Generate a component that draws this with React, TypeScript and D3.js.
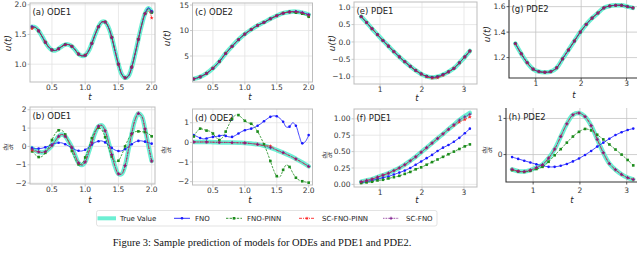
import React from 'react';
import * as d3 from 'd3';

// sample grids (t)
const tOde = [0.2, 0.25, 0.3, 0.35, 0.4, 0.45, 0.5, 0.55, 0.6, 0.65, 0.7, 0.75, 0.8, 0.85, 0.9, 0.95, 1.0, 1.05, 1.1, 1.15, 1.2, 1.25, 1.3, 1.35, 1.4, 1.45, 1.5, 1.55, 1.6, 1.65, 1.7, 1.75, 1.8, 1.85, 1.9, 1.95, 2.0];
const tOdeCoarse = [0.2, 0.3, 0.4, 0.5, 0.6, 0.7, 0.8, 0.9, 1.0, 1.1, 1.2, 1.3, 1.4, 1.5, 1.6, 1.7, 1.8, 1.9, 2.0];
const tPde = [0.55, 0.68, 0.81, 0.94, 1.07, 1.2, 1.33, 1.46, 1.59, 1.72, 1.85, 1.98, 2.11, 2.24, 2.37, 2.5, 2.63, 2.76, 2.89, 3.02, 3.14];

const seriesNames = ['True Value', 'FNO', 'FNO-PINN', 'SC-FNO-PINN', 'SC-FNO'];

// (a) ODE1 u(t)
const aTrue = [1.63, 1.62, 1.56, 1.47, 1.37, 1.29, 1.24, 1.23, 1.26, 1.3, 1.33, 1.33, 1.3, 1.24, 1.17, 1.14, 1.15, 1.22, 1.35, 1.5, 1.63, 1.71, 1.71, 1.62, 1.45, 1.22, 1.0, 0.83, 0.77, 0.8, 0.95, 1.17, 1.42, 1.66, 1.85, 1.94, 1.88];
const aFno = [...aTrue.slice(0, 35), 1.95, 1.89];
const aPinn = [1.61, ...aTrue.slice(1, 35), 1.93, 1.87];
const aScPinn = [1.6, ...aTrue.slice(1, 35), 1.9, 1.78];
const aSc = [...aTrue];

// (b) ODE1 du/dt
const bTrue = [-0.1, -0.22, -0.3, -0.33, -0.28, -0.15, 0.05, 0.3, 0.55, 0.65, 0.55, 0.28, -0.05, -0.5, -0.9, -1.02, -0.85, -0.35, 0.2, 0.75, 1.1, 1.15, 0.85, 0.25, -0.45, -1.1, -1.5, -1.5, -1.05, -0.2, 0.7, 1.45, 1.8, 1.65, 0.95, 0.05, -0.8];
const bFno = [-0.08, -0.12, -0.12, -0.1, -0.05, 0.02, 0.1, 0.17, 0.2, 0.19, 0.12, 0.02, -0.08, -0.18, -0.24, -0.25, -0.18, -0.05, 0.1, 0.22, 0.28, 0.3, 0.22, 0.08, -0.08, -0.2, -0.25, -0.24, -0.15, -0.02, 0.12, 0.24, 0.3, 0.3, 0.26, 0.2, 0.15];
const bPinn = [-0.27, -0.45, -0.58, -0.55, -0.35, -0.05, 0.35, 0.7, 0.88, 0.88, 0.65, 0.25, -0.25, -0.7, -0.98, -0.95, -0.6, -0.1, 0.45, 0.85, 1.02, 0.9, 0.5, -0.05, -0.55, -0.83, -0.78, -0.45, 0.0, 0.4, 0.68, 0.8, 0.82, 0.8, 0.78, 0.7, 0.55];
const bScPinn = [-0.2, -0.28, ...bTrue.slice(2)];
const bSc = [-0.14, ...bTrue.slice(1)];

// (c) ODE2 u(t)
const cTrue = [0.5, 0.9, 1.6, 2.6, 3.9, 5.5, 6.9, 8.2, 9.3, 10.2, 11.0, 11.6, 12.3, 12.9, 13.4, 13.65, 13.7, 13.5, 13.1];
const cFno = [...cTrue];
const cPinn = [...cTrue.slice(0, 16), 13.5, 13.3, 12.7];
const cScPinn = [...cTrue.slice(0, 18), 13.0];
const cSc = [...cTrue];

// (d) ODE2 du/dt
const dTrue = [0.02, 0.02, 0.02, 0.01, 0.0, 0.0, -0.01, -0.02, -0.03, -0.06, -0.1, -0.17, -0.27, -0.39, -0.52, -0.67, -0.84, -1.02, -1.22];
const dFno = [0.37, 0.3, 0.22, 0.18, 0.2, 0.25, 0.28, 0.3, 0.33, 0.36, 0.33, 0.28, 0.28, 0.35, 0.45, 0.55, 0.62, 0.66, 0.7, 0.76, 0.85, 0.95, 1.08, 1.2, 1.3, 1.35, 1.33, 1.22, 1.05, 0.78, 0.8, 1.0, 0.85, 0.35, -0.05, 0.05, 0.37];
const dPinn = [0.3, 0.55, 0.7, 0.66, 0.6, 0.57, 0.45, 0.25, 0.12, 0.25, 0.55, 0.9, 1.2, 1.38, 1.39, 1.25, 1.1, 1.0, 0.95, 0.8, 0.55, 0.25, -0.1, -0.5, -0.95, -1.4, -1.72, -1.75, -1.4, -1.15, -1.25, -1.55, -1.8, -1.92, -1.98, -2.02, -2.05];
const dScPinn = [...dTrue.slice(0, 12), -0.19, -0.4, -0.53, -0.68, -0.85, -1.03, -1.23];
const dSc = [...dTrue];

// (e) PDE1 u(t)
const eTrue = [0.73, 0.56, 0.38, 0.21, 0.04, -0.12, -0.28, -0.43, -0.57, -0.7, -0.82, -0.92, -0.99, -1.02, -1.0, -0.94, -0.86, -0.76, -0.6, -0.43, -0.26];
const eFno = [...eTrue];
const ePinn = [...eTrue];
const eScPinn = [...eTrue.slice(0, 12), -1.0, -1.04, -1.03, -0.96, ...eTrue.slice(16)];
const eSc = [...eTrue];

// (f) PDE1 du/dt
const fTrue = [0.04, 0.06, 0.08, 0.11, 0.14, 0.17, 0.21, 0.25, 0.3, 0.36, 0.42, 0.49, 0.56, 0.63, 0.7, 0.77, 0.84, 0.91, 0.98, 1.04, 1.09];
const fFno = [0.03, 0.04, 0.06, 0.08, 0.1, 0.12, 0.15, 0.18, 0.21, 0.25, 0.3, 0.35, 0.4, 0.45, 0.51, 0.56, 0.6, 0.65, 0.71, 0.78, 0.85];
const fPinn = [0.02, 0.03, 0.04, 0.06, 0.07, 0.09, 0.11, 0.13, 0.16, 0.19, 0.23, 0.26, 0.3, 0.34, 0.38, 0.42, 0.46, 0.5, 0.54, 0.58, 0.61];
const fScPinn = [...fTrue.slice(0, 17), 0.9, 0.95, 0.99, 1.03];
const fSc = [...fTrue.slice(0, 19), 1.03, 1.07];

// (g) PDE2 u(t)
const gTrue = [1.31, 1.23, 1.16, 1.11, 1.09, 1.085, 1.09, 1.12, 1.19, 1.26, 1.33, 1.4, 1.46, 1.51, 1.55, 1.59, 1.605, 1.61, 1.61, 1.6, 1.59];
const gFno = [...gTrue];
const gPinn = [...gTrue];
const gScPinn = [...gTrue];
const gSc = [...gTrue];

// (h) PDE2 du/dt
const hTrue = [-0.41, -0.46, -0.47, -0.43, -0.36, -0.28, -0.1, 0.15, 0.5, 0.85, 1.1, 1.15, 1.05, 0.8, 0.42, 0.05, -0.25, -0.42, -0.55, -0.64, -0.69];
const hFno = [-0.07, -0.12, -0.17, -0.22, -0.27, -0.31, -0.34, -0.34, -0.31, -0.26, -0.19, -0.11, -0.01, 0.1, 0.22, 0.33, 0.44, 0.54, 0.62, 0.68, 0.72];
const hPinn = [-0.43, -0.47, -0.48, -0.45, -0.4, -0.34, -0.2, -0.02, 0.15, 0.33, 0.5, 0.63, 0.71, 0.67, 0.55, 0.42, 0.28, 0.14, 0.0, -0.15, -0.3];
const hScPinn = [...hTrue];
const hSc = [...hTrue];

type Style = { stroke: string; width: number; opacity: number; dash?: string; marker?: string };
const styles: Record<string, Style> = {
  'True Value': { stroke: '#52eccb', width: 4.5, opacity: 0.85 },
  'FNO': { stroke: '#1a1aff', width: 0.8, opacity: 1, marker: 'circle' },
  'FNO-PINN': { stroke: '#1c8c1c', width: 0.8, opacity: 1, dash: '2.4,1.2', marker: 'square' },
  'SC-FNO-PINN': { stroke: '#ff2222', width: 0.8, opacity: 1, dash: '3,1,1,1', marker: 'star' },
  'SC-FNO': { stroke: '#7d1a8c', width: 0.9, opacity: 1, dash: '0.8,0.8', marker: 'plus' },
};

type PanelCfg = {
  title: string;
  box: { x: number; y: number; w: number; h: number };
  xDomain: [number, number];
  yDomain: [number, number];
  xTicks: number[];
  yTicks: number[];
  xFmt: string;
  yFmt: string;
  ylabel: 'u' | 'du';
  ylabelPos: [number, number];
  xlabelPos: [number, number];
  frame: 'box' | 'spine';
  xTickDy: number;
  markEvery: number;
  t: number[][];
  v: number[][];
};

const panels: PanelCfg[] = [
  {
    title: '(a) ODE1', box: { x: 30, y: 3, w: 125, h: 79 }, xDomain: [0.17, 2.05], yDomain: [0.7, 2.03],
    xTicks: [0.5, 1, 1.5, 2], yTicks: [1, 1.5, 2], xFmt: '.1f', yFmt: '.1f', ylabel: 'u', ylabelPos: [8, 43], xlabelPos: [90, 99.5],
    frame: 'box', xTickDy: 8.3, markEvery: 2,
    t: [tOde, tOde, tOde, tOde, tOde], v: [aTrue, aFno, aPinn, aScPinn, aSc],
  },
  {
    title: '(b) ODE1', box: { x: 30, y: 107, w: 125, h: 77 }, xDomain: [0.17, 2.05], yDomain: [-2.05, 2.15],
    xTicks: [0.5, 1, 1.5, 2], yTicks: [-2, -1, 0, 1, 2], xFmt: '.1f', yFmt: 'd', ylabel: 'du', ylabelPos: [8, 147], xlabelPos: [90, 203],
    frame: 'box', xTickDy: 8.3, markEvery: 2,
    t: [tOde, tOde, tOde, tOde, tOde], v: [bTrue, bFno, bPinn, bScPinn, bSc],
  },
  {
    title: '(c) ODE2', box: { x: 192.5, y: 3, w: 120, h: 79 }, xDomain: [0.18, 2.06], yDomain: [-0.1, 15.4],
    xTicks: [0.5, 1, 1.5, 2], yTicks: [5, 10, 15], xFmt: '.1f', yFmt: 'd', ylabel: 'u', ylabelPos: [167, 38], xlabelPos: [250, 99.5],
    frame: 'box', xTickDy: 8.3, markEvery: 1,
    t: [tOdeCoarse, tOdeCoarse, tOdeCoarse, tOdeCoarse, tOdeCoarse], v: [cTrue, cFno, cPinn, cScPinn, cSc],
  },
  {
    title: '(d) ODE2', box: { x: 192.5, y: 109, w: 120, h: 76 }, xDomain: [0.18, 2.06], yDomain: [-2.17, 1.7],
    xTicks: [0.5, 1, 1.5, 2], yTicks: [-2, -1, 0, 1], xFmt: '.1f', yFmt: 'd', ylabel: 'du', ylabelPos: [166, 150], xlabelPos: [250, 203],
    frame: 'box', xTickDy: 8.3, markEvery: 2,
    t: [tOdeCoarse, tOde, tOde, tOdeCoarse, tOdeCoarse], v: [dTrue, dFno, dPinn, dScPinn, dSc],
  },
  {
    title: '(e) PDE1', box: { x: 354, y: 2, w: 123, h: 82 }, xDomain: [0.38, 3.31], yDomain: [-1.21, 1.15],
    xTicks: [1, 2, 3], yTicks: [-1, -0.5, 0, 0.5, 1], xFmt: 'd', yFmt: '.1f', ylabel: 'u', ylabelPos: [332, 43], xlabelPos: [417, 100.5],
    frame: 'box', xTickDy: 8.3, markEvery: 1,
    t: [tPde, tPde, tPde, tPde, tPde], v: [eTrue, eFno, ePinn, eScPinn, eSc],
  },
  {
    title: '(f) PDE1', box: { x: 354, y: 109, w: 123, h: 78 }, xDomain: [0.38, 3.31], yDomain: [-0.04, 1.15],
    xTicks: [1, 2, 3], yTicks: [0, 0.25, 0.5, 0.75, 1], xFmt: 'd', yFmt: '.2f', ylabel: 'du', ylabelPos: [327, 155], xlabelPos: [417, 203],
    frame: 'box', xTickDy: 8.3, markEvery: 1,
    t: [tPde, tPde, tPde, tPde, tPde], v: [fTrue, fFno, fPinn, fScPinn, fSc],
  },
  {
    title: '(g) PDE2', box: { x: 509, y: 0, w: 128, h: 78 }, xDomain: [0.41, 3.23], yDomain: [1.04, 1.652],
    xTicks: [1, 2, 3], yTicks: [1.2, 1.4, 1.6], xFmt: 'd', yFmt: '.1f', ylabel: 'u', ylabelPos: [487, 34], xlabelPos: [574, 97.5],
    frame: 'spine', xTickDy: 8.3, markEvery: 1,
    t: [tPde, tPde, tPde, tPde, tPde], v: [gTrue, gFno, gPinn, gScPinn, gSc],
  },
  {
    title: '(h) PDE2', box: { x: 506, y: 108, w: 131, h: 74 }, xDomain: [0.42, 3.22], yDomain: [-0.76, 1.29],
    xTicks: [1, 2, 3], yTicks: [0, 1], xFmt: 'd', yFmt: 'd', ylabel: 'du', ylabelPos: [487, 150], xlabelPos: [572, 203],
    frame: 'spine', xTickDy: 10.5, markEvery: 1,
    t: [tPde, tPde, tPde, tPde, tPde], v: [hTrue, hFno, hPinn, hScPinn, hSc],
  },
];

const SANS = 'DejaVu Sans, sans-serif';

function Marker({ kind, x, y, color }: { kind?: string; x: number; y: number; color: string }) {
  if (kind === 'circle') return <circle cx={x} cy={y} r={1.3} fill={color} />;
  if (kind === 'square') return <rect x={x - 1.3} y={y - 1.3} width={2.6} height={2.6} fill={color} />;
  if (kind === 'star') return <path d={d3.symbol(d3.symbolStar, 5)()!} transform={`translate(${x},${y})`} fill={color} />;
  if (kind === 'plus')
    return (
      <path d={`M${x - 1.6},${y}H${x + 1.6}M${x},${y - 1.6}V${y + 1.6}`} stroke={color} strokeWidth={0.9} />
    );
  return null;
}

function Panel({ cfg, idx }: { cfg: PanelCfg; idx: number }) {
  const { box } = cfg;
  const x = d3.scaleLinear().domain(cfg.xDomain).range([box.x, box.x + box.w]);
  const y = d3.scaleLinear().domain(cfg.yDomain).range([box.y + box.h, box.y]);
  const line = d3
    .line<[number, number]>()
    .x(d => x(d[0]))
    .y(d => y(d[1]))
    .curve(d3.curveCatmullRom.alpha(0.5));
  const xf = d3.format(cfg.xFmt);
  const yf = (v: number) => d3.format(cfg.yFmt)(v).replace('-', '\u2212');
  const clip = `clip-${idx}`;
  const isBox = cfg.frame === 'box';
  const gridColor = isBox ? '#e3e3e3' : '#c4c4c4';
  const frameColor = isBox ? '#bdbdbd' : '#333';
  const bottom = box.y + box.h;
  const right = box.x + box.w;

  return (
    <g>
      <defs>
        <clipPath id={clip}>
          <rect x={box.x} y={box.y} width={box.w} height={box.h} />
        </clipPath>
      </defs>
      {cfg.yTicks.map(v => (
        <line key={`gy${v}`} x1={box.x} x2={right} y1={y(v)} y2={y(v)} stroke={gridColor} strokeWidth={0.8} />
      ))}
      {cfg.xTicks.map(v => (
        <line key={`gx${v}`} x1={x(v)} x2={x(v)} y1={box.y} y2={bottom} stroke={gridColor} strokeWidth={0.8} />
      ))}
      <g clipPath={`url(#${clip})`}>
        {seriesNames.map((name, si) => {
          const st = styles[name];
          const pts = cfg.t[si].map((t, i) => [t, cfg.v[si][i]] as [number, number]);
          return (
            <g key={name}>
              <path
                d={line(pts)!}
                fill="none"
                stroke={st.stroke}
                strokeWidth={st.width}
                strokeOpacity={st.opacity}
                strokeDasharray={st.dash}
                strokeLinecap={si === 0 ? 'round' : 'butt'}
              />
              {st.marker &&
                pts
                  .filter((_, i) => i % cfg.markEvery === 0)
                  .map((p, i) => <Marker key={i} kind={st.marker} x={x(p[0])} y={y(p[1])} color={st.stroke} />)}
            </g>
          );
        })}
      </g>
      {isBox ? (
        <rect x={box.x} y={box.y} width={box.w} height={box.h} fill="none" stroke={frameColor} strokeWidth={1} />
      ) : (
        <path d={`M${box.x},${box.y}V${bottom}H${right}`} fill="none" stroke={frameColor} strokeWidth={1.1} />
      )}
      {cfg.yTicks.map(v => (
        <g key={`ty${v}`}>
          <line x1={box.x - 2.5} x2={box.x} y1={y(v)} y2={y(v)} stroke={frameColor} strokeWidth={0.8} />
          <text x={box.x - 3.5} y={y(v)} dy="0.35em" textAnchor="end" fontSize={7.5} fontFamily={SANS} fill="#333">
            {yf(v)}
          </text>
        </g>
      ))}
      {cfg.xTicks.map(v => (
        <g key={`tx${v}`}>
          <line x1={x(v)} x2={x(v)} y1={bottom} y2={bottom + 2.5} stroke={frameColor} strokeWidth={0.8} />
          <text x={x(v)} y={bottom + cfg.xTickDy} textAnchor="middle" fontSize={7.5} fontFamily={SANS} fill="#333">
            {xf(v)}
          </text>
        </g>
      ))}
      <text x={box.x + 2.5} y={box.y + 11.5} fontSize={8.5} fontFamily={SANS} fill="#222">
        {cfg.title}
      </text>
      <text
        x={cfg.xlabelPos[0]}
        y={cfg.xlabelPos[1]}
        textAnchor="middle"
        fontSize={8.5}
        fontStyle="italic"
        fontFamily={SANS}
        fill="#222"
      >
        t
      </text>
      {cfg.ylabel === 'u' ? (
        <text
          transform={`translate(${cfg.ylabelPos[0]},${cfg.ylabelPos[1]}) rotate(-90)`}
          textAnchor="middle"
          dy="0.35em"
          fontSize={9}
          fontStyle="italic"
          fontFamily={SANS}
          fill="#222"
        >
          u(t)
        </text>
      ) : (
        <g transform={`translate(${cfg.ylabelPos[0]},${cfg.ylabelPos[1]}) rotate(-90)`} fontFamily={SANS} fontSize={5.5} fontStyle="italic" fill="#222">
          <text x={0} y={-1.2} textAnchor="middle">du</text>
          <line x1={-3.2} x2={3.2} y1={0} y2={0} stroke="#222" strokeWidth={0.4} />
          <text x={0} y={4.6} textAnchor="middle">dt</text>
        </g>
      )}
    </g>
  );
}

const legendItems = [
  { name: 'True Value', lineX: 97.5, textX: 120 },
  { name: 'FNO', lineX: 174, textX: 195 },
  { name: 'FNO-PINN', lineX: 226, textX: 247 },
  { name: 'SC-FNO-PINN', lineX: 299, textX: 322 },
  { name: 'SC-FNO', lineX: 383, textX: 406 },
];

function Legend() {
  const cy = 218.3;
  return (
    <g>
      <rect x={96.5} y={210.5} width={340.5} height={15.5} rx={2} fill="#fff" stroke="#dcdcdc" strokeWidth={0.8} />
      {legendItems.map(it => {
        const st = styles[it.name];
        return (
          <g key={it.name}>
            {it.name === 'True Value' ? (
              <rect x={it.lineX} y={cy - 2} width={18.5} height={4} fill={st.stroke} fillOpacity={0.85} />
            ) : (
              <>
                <line x1={it.lineX} x2={it.lineX + 16} y1={cy} y2={cy} stroke={st.stroke} strokeWidth={0.9} strokeDasharray={st.dash} />
                <Marker kind={st.marker} x={it.lineX + 8} y={cy} color={st.stroke} />
              </>
            )}
            <text x={it.textX} y={cy} dy="0.35em" fontSize={7} fontFamily={SANS} fill="#222">
              {it.name}
            </text>
          </g>
        );
      })}
    </g>
  );
}

export default function App() {
  return (
    <svg
      width={640}
      height={259}
      viewBox="0 0 640 259"
      style={{ position: 'absolute', left: 0, top: 0, background: '#fff' }}
    >
      <rect width={640} height={259} fill="#fff" />
      {panels.map((p, i) => (
        <Panel key={p.title} cfg={p} idx={i} />
      ))}
      <Legend />
      <text x={262} y={246} textAnchor="middle" fontSize={10.5} fontFamily="Liberation Serif, Times New Roman, serif" fill="#111">
        Figure 3: Sample prediction of models for ODEs and PDE1 and PDE2.
      </text>
    </svg>
  );
}
